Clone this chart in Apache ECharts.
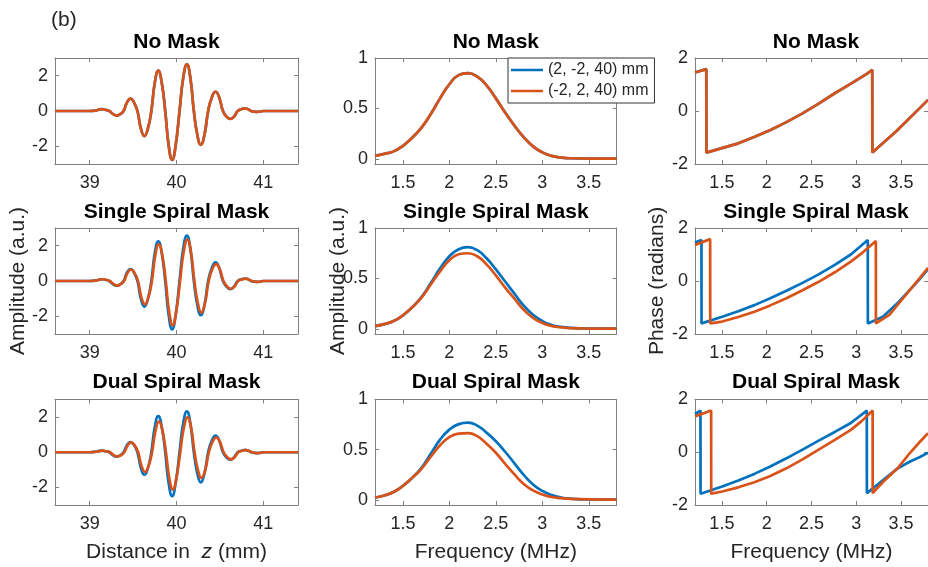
<!DOCTYPE html>
<html>
<head>
<meta charset="utf-8">
<script src="https://cdn.jsdelivr.net/npm/echarts@6/dist/echarts.min.js"></script>
<style>html,body{margin:0;padding:0;background:#fff}#c{width:928px;height:567px}</style>
</head>
<body>
<div id="c"></div>
<script>
// ---------- DATA ----------
const rowTitles = ['No Mask', 'Single Spiral Mask', 'Dual Spiral Mask'];
const seriesNames = ['(2, -2, 40) mm', '(-2, 2, 40) mm'];

// Time signals: distance in z (mm)
const tX   = [38.6,39.0,39.07,39.14,39.18,39.225,39.27,39.31,39.35,39.39,39.43,39.47,39.51,39.55,39.59,39.63,39.67,39.71,39.75,39.79,39.83,39.87,39.91,39.95,39.99,40.035,40.077,40.12,40.16,40.20,40.24,40.28,40.322,40.365,40.407,40.45,40.492,40.535,40.577,40.62,40.662,40.705,40.747,40.79,40.825,40.86,40.895,40.93,41.0,41.4];
const tXs2 = [38.6,39.0,39.076,39.146,39.186,39.231,39.276,39.316,39.356,39.396,39.436,39.476,39.516,39.556,39.596,39.636,39.676,39.716,39.756,39.796,39.836,39.876,39.916,39.956,39.996,40.041,40.083,40.126,40.166,40.206,40.246,40.286,40.328,40.371,40.413,40.456,40.498,40.541,40.583,40.626,40.668,40.711,40.753,40.796,40.831,40.866,40.901,40.936,41.0,41.4];
const tXs3 = [38.6,39.0,39.078,39.148,39.188,39.233,39.278,39.318,39.358,39.398,39.438,39.478,39.518,39.558,39.598,39.638,39.678,39.718,39.758,39.798,39.838,39.878,39.918,39.958,39.998,40.043,40.085,40.128,40.168,40.208,40.248,40.288,40.330,40.373,40.415,40.458,40.500,40.543,40.585,40.628,40.670,40.713,40.755,40.798,40.833,40.868,40.903,40.938,41.0,41.4];
const tNoMaskBlue   = [0,0,0.03,0.11,0.07,0,-0.18,-0.26,-0.18,0,0.49,0.70,0.49,0,-1.0,-1.42,-1.0,0,1.6,2.28,1.6,0,-1.95,-2.77,-1.95,0,1.86,2.64,1.86,0,-1.35,-1.92,-1.35,0,0.77,1.09,0.77,0,-0.32,-0.45,-0.32,0,0.1,0.15,0.1,0,-0.035,-0.05,0,0];
const tNoMaskOrange = [0,0,0.03,0.11,0.07,0,-0.18,-0.26,-0.18,0,0.49,0.70,0.49,0,-1.0,-1.42,-1.0,0,1.6,2.28,1.6,0,-1.95,-2.77,-1.95,0,1.86,2.64,1.86,0,-1.35,-1.92,-1.35,0,0.77,1.09,0.77,0,-0.32,-0.45,-0.32,0,0.1,0.15,0.1,0,-0.035,-0.05,0,0];
const tSingleBlue   = [0,0,0.03,0.10,0.07,0,-0.19,-0.27,-0.19,0,0.48,0.68,0.48,0,-1.02,-1.45,-1.02,0,1.58,2.25,1.58,0,-1.93,-2.74,-1.93,0,1.81,2.57,1.81,0,-1.36,-1.93,-1.36,0,0.74,1.05,0.74,0,-0.32,-0.46,-0.32,0,0.1,0.14,0.1,0,-0.035,-0.05,0,0];
const tSingleOrange = [0,0,0.03,0.10,0.07,0,-0.18,-0.26,-0.18,0,0.46,0.65,0.46,0,-0.93,-1.32,-0.93,0,1.46,2.08,1.46,0,-1.76,-2.50,-1.76,0,1.65,2.34,1.65,0,-1.26,-1.79,-1.26,0,0.68,0.96,0.68,0,-0.31,-0.44,-0.31,0,0.09,0.13,0.09,0,-0.035,-0.05,0,0];
const tDualBlue     = [0,0,0.03,0.09,0.06,0,-0.18,-0.25,-0.18,0,0.41,0.58,0.41,0,-0.90,-1.28,-0.90,0,1.44,2.05,1.44,0,-1.76,-2.50,-1.76,0,1.64,2.33,1.64,0,-1.21,-1.72,-1.21,0,0.67,0.95,0.67,0,-0.30,-0.42,-0.30,0,0.09,0.13,0.09,0,-0.035,-0.05,0,0];
const tDualOrange   = [0,0,0.03,0.09,0.06,0,-0.17,-0.24,-0.17,0,0.39,0.56,0.39,0,-0.79,-1.12,-0.79,0,1.23,1.75,1.23,0,-1.49,-2.12,-1.49,0,1.39,1.98,1.39,0,-1.03,-1.46,-1.03,0,0.59,0.84,0.59,0,-0.28,-0.40,-0.28,0,0.085,0.12,0.085,0,-0.035,-0.05,0,0];

// Spectrum amplitude: frequency (MHz)
const fX = [1.2,1.3,1.4,1.5,1.6,1.7,1.8,1.9,2.0,2.1,2.2,2.3,2.4,2.5,2.6,2.7,2.8,2.9,3.0,3.1,3.2,3.3,3.5,3.8];
const aNoMaskBlue   = [0.03,0.05,0.075,0.13,0.21,0.31,0.445,0.60,0.74,0.83,0.85,0.815,0.73,0.60,0.46,0.33,0.215,0.125,0.065,0.03,0.015,0.007,0.003,0.003];
const aNoMaskOrange = [0.03,0.05,0.075,0.13,0.21,0.31,0.445,0.60,0.74,0.83,0.85,0.815,0.73,0.60,0.46,0.33,0.215,0.125,0.065,0.03,0.015,0.007,0.003,0.003];
const aSingleBlue   = [0.028,0.048,0.078,0.135,0.215,0.315,0.455,0.60,0.72,0.79,0.81,0.78,0.70,0.59,0.47,0.35,0.23,0.14,0.078,0.04,0.02,0.01,0.004,0.003];
const aSingleOrange = [0.028,0.048,0.078,0.135,0.215,0.31,0.44,0.57,0.68,0.74,0.75,0.72,0.64,0.53,0.41,0.30,0.19,0.11,0.06,0.03,0.016,0.008,0.004,0.003];
const aDualBlue     = [0.025,0.045,0.08,0.14,0.22,0.32,0.46,0.60,0.70,0.755,0.77,0.74,0.67,0.585,0.48,0.365,0.25,0.155,0.09,0.05,0.025,0.013,0.005,0.004];
const aDualOrange   = [0.025,0.045,0.08,0.14,0.22,0.31,0.43,0.545,0.625,0.66,0.665,0.635,0.56,0.47,0.36,0.255,0.16,0.095,0.055,0.03,0.018,0.01,0.005,0.004];

// Phase (radians): [frequency, phase]
const pNoMaskBlue = [[1.2,1.45],[1.326,1.58],[1.327,-1.57],[1.5,-1.40],[1.684,-1.22],[1.86,-0.98],[2.042,-0.72],[2.22,-0.42],[2.40,-0.09],[2.58,0.28],[2.76,0.67],[2.94,1.03],[3.117,1.40],[3.178,1.55],[3.179,-1.57],[3.44,-0.78],[3.705,0.10],[3.8,0.42]];
const pNoMaskOrange = [[1.2,1.45],[1.326,1.58],[1.327,-1.57],[1.5,-1.40],[1.684,-1.22],[1.86,-0.98],[2.042,-0.72],[2.22,-0.42],[2.40,-0.09],[2.58,0.28],[2.76,0.67],[2.94,1.03],[3.117,1.40],[3.178,1.55],[3.179,-1.57],[3.44,-0.78],[3.705,0.10],[3.8,0.42]];
const pSingleBlue = [[1.2,1.45],[1.272,1.55],[1.273,-1.60],[1.504,-1.35],[1.683,-1.14],[1.863,-0.91],[2.04,-0.65],[2.22,-0.37],[2.40,-0.07],[2.58,0.25],[2.76,0.61],[2.939,1.0],[3.128,1.55],[3.129,-1.60],[3.297,-1.35],[3.476,-0.78],[3.705,0.06],[3.8,0.45]];
const pSingleOrange = [[1.2,1.36],[1.369,1.58],[1.37,-1.60],[1.504,-1.53],[1.683,-1.36],[1.863,-1.16],[2.04,-0.92],[2.22,-0.65],[2.40,-0.35],[2.58,-0.03],[2.76,0.33],[2.939,0.73],[3.08,1.10],[3.218,1.51],[3.219,-1.60],[3.369,-1.28],[3.476,-0.84],[3.705,0.10],[3.8,0.5]];
const pDualBlue = [[1.2,1.45],[1.261,1.58],[1.262,-1.57],[1.504,-1.30],[1.683,-1.07],[1.863,-0.82],[2.04,-0.54],[2.22,-0.23],[2.40,0.10],[2.58,0.44],[2.76,0.77],[2.939,1.11],[3.117,1.58],[3.118,-1.55],[3.2,-1.33],[3.3,-1.05],[3.458,-0.62],[3.6,-0.35],[3.705,-0.19],[3.8,-0.02]];
const pDualOrange = [[1.2,1.36],[1.38,1.58],[1.381,-1.57],[1.504,-1.49],[1.683,-1.33],[1.863,-1.14],[2.04,-0.90],[2.22,-0.61],[2.40,-0.27],[2.58,0.10],[2.76,0.47],[2.939,0.85],[3.06,1.18],[3.182,1.58],[3.183,-1.55],[3.3,-1.12],[3.458,-0.62],[3.6,-0.02],[3.705,0.38],[3.8,0.72]];

// ---------- LAYOUT / STYLE ----------
const BLUE = '#0072BD', ORANGE = '#D95319';
const FONT = "'Liberation Sans', Arial, Helvetica, sans-serif";
const AX = '#808080', TXT = '#262626';
const cols = [{left:55, width:243}, {left:375, width:241.7}, {left:695, width:242}];
const rows = [{top:58, height:106}, {top:228, height:106}, {top:399.5, height:105.5}];
const titleY = [42.5, 212.5, 382.5];

const xCfg = [
  {min:38.6, max:41.4, splitNumber:3, showMin:false, showMax:false},
  {min:1.2, max:3.8, splitNumber:5, showMin:false, showMax:false},
  {min:1.2, max:3.8, splitNumber:5, showMin:false, showMax:false}
];
const yCfg = [
  {min:-3, max:3, splitNumber:3, showMin:false, showMax:false},
  {min:-0.05, max:1, splitNumber:2, showMin:false, showMax:true},
  {min:-2, max:2, interval:2, showMin:true, showMax:true}
];

const pairs = (xs, ys) => xs.map((x, i) => [x, ys[i]]);
const panelData = [
  [[pairs(tX, tNoMaskBlue), pairs(tX, tNoMaskOrange)], [pairs(fX, aNoMaskBlue), pairs(fX, aNoMaskOrange)], [pNoMaskBlue, pNoMaskOrange]],
  [[pairs(tX, tSingleBlue), pairs(tXs2, tSingleOrange)], [pairs(fX, aSingleBlue), pairs(fX, aSingleOrange)], [pSingleBlue, pSingleOrange]],
  [[pairs(tX, tDualBlue), pairs(tXs3, tDualOrange)], [pairs(fX, aDualBlue), pairs(fX, aDualOrange)], [pDualBlue, pDualOrange]]
];

const grid = [], xAxis = [], yAxis = [], series = [], title = [];
for (let r = 0; r < 3; r++) {
  for (let c = 0; c < 3; c++) {
    const g = r * 3 + c;
    grid.push({left: cols[c].left, width: cols[c].width, top: rows[r].top, height: rows[r].height, containLabel: false});
    const xc = xCfg[c], yc = yCfg[c];
    const common = {
      axisLine: {show: true, onZero: false, lineStyle: {color: AX, width: 1}},
      axisTick: {show: true, inside: true, length: 4, lineStyle: {color: AX}},
      splitLine: {show: false}
    };
    const xBase = {type: 'value', gridIndex: g, min: xc.min, max: xc.max, splitNumber: xc.splitNumber};
    const yBase = {type: 'value', gridIndex: g, min: yc.min, max: yc.max};
    if (yc.interval) yBase.interval = yc.interval; else yBase.splitNumber = yc.splitNumber;
    const xb = Object.assign({}, xBase, common, {
      position: 'bottom',
      axisLabel: {show: true, color: TXT, fontSize: 18, fontFamily: FONT, margin: 10, showMinLabel: xc.showMin, showMaxLabel: xc.showMax}
    });
    if (r === 2) {
      xb.nameLocation = 'middle';
      xb.nameGap = 37;
      xb.name = c === 0 ? 'Distance in  {i|z} (mm)' : 'Frequency (MHz)';
      xb.nameTextStyle = {color: TXT, fontSize: 21, fontFamily: FONT,
        rich: {i: {fontStyle: 'italic', fontSize: 21, fontFamily: FONT, color: TXT}}};
    }
    xAxis.push(xb);
    xAxis.push(Object.assign({}, xBase, common, {position: 'top', axisLabel: {show: false}}));
    yAxis.push(Object.assign({}, yBase, common, {
      position: 'left',
      axisLabel: {show: true, color: TXT, fontSize: 18, fontFamily: FONT, margin: 7, showMinLabel: yc.showMin, showMaxLabel: yc.showMax}
    }));
    yAxis.push(Object.assign({}, yBase, common, {position: 'right', axisLabel: {show: false}}));

    const smooth = c === 2 ? false : 0.5;
    const d = panelData[r][c];
    [BLUE, ORANGE].forEach((col, k) => {
      series.push({
        type: 'line', name: seriesNames[k], xAxisIndex: 2 * g, yAxisIndex: 2 * g,
        data: d[k], smooth: smooth, showSymbol: false, symbol: 'none',
        lineStyle: {color: col, width: 2.7}, itemStyle: {color: col},
        z: 2 + k, animation: false
      });
    });

    title.push({
      text: rowTitles[r], left: cols[c].left + cols[c].width / 2, top: titleY[r],
      textAlign: 'center', textVerticalAlign: 'middle', padding: 0,
      textStyle: {fontSize: 21, fontWeight: 'bold', color: '#000', fontFamily: FONT}
    });
  }
}

const option = {
  backgroundColor: '#fff',
  animation: false,
  title: title,
  grid: grid, xAxis: xAxis, yAxis: yAxis, series: series,
  legend: {
    data: seriesNames, orient: 'vertical', left: 508, top: 58,
    padding: [4, 6, 4, 3], itemGap: 5, itemWidth: 32, itemHeight: 2.5, icon: 'rect',
    backgroundColor: '#fff', borderColor: '#333', borderWidth: 1, borderRadius: 0,
    textStyle: {fontSize: 16, color: TXT, fontFamily: FONT}, z: 10
  },
  graphic: [
    {type: 'text', left: 51, top: 10, style: {text: '(b)', fontSize: 21, fontFamily: FONT, fill: TXT}},
    {type: 'text', x: 18, y: 281, rotation: Math.PI / 2, style: {text: 'Amplitude (a.u.)', fontSize: 21, fontFamily: FONT, fill: TXT, align: 'center', verticalAlign: 'middle'}},
    {type: 'text', x: 338, y: 281, rotation: Math.PI / 2, style: {text: 'Amplitude (a.u.)', fontSize: 21, fontFamily: FONT, fill: TXT, align: 'center', verticalAlign: 'middle'}},
    {type: 'text', x: 657, y: 281, rotation: Math.PI / 2, style: {text: 'Phase (radians)', fontSize: 21, fontFamily: FONT, fill: TXT, align: 'center', verticalAlign: 'middle'}}
  ]
};
const chart = echarts.init(document.getElementById('c'), null, {renderer: 'canvas'});
chart.setOption(option);
</script>
</body>
</html>
